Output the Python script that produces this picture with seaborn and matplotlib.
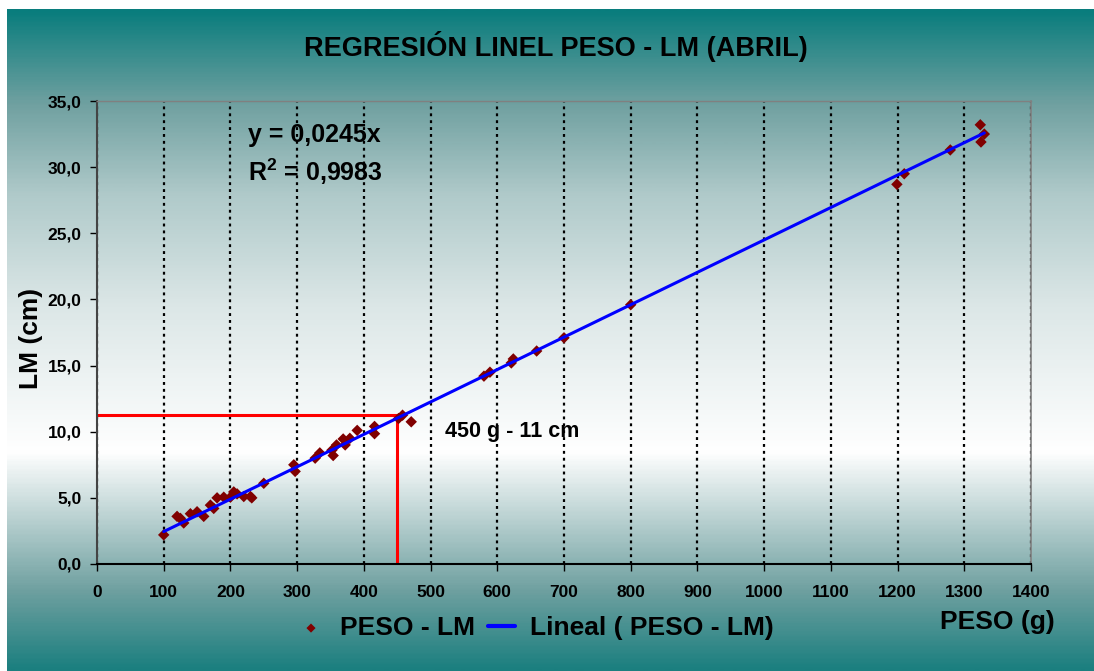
import numpy as np
import pandas as pd
import seaborn as sns
import matplotlib.pyplot as plt
from matplotlib.colors import LinearSegmentedColormap

# datos (peso en g, longitud del manto en cm)
peso = [100, 120, 125, 130, 140, 150, 160, 170, 175, 180, 190, 200, 205, 210,
        220, 230, 232, 250, 295, 297, 327, 334, 352, 354, 359, 369, 372, 379,
        390, 416, 416, 452, 458, 471, 580, 589, 621, 624, 659, 700, 800,
        1199, 1210, 1279, 1324, 1330, 1325]
lm = [2.2, 3.6, 3.45, 3.1, 3.8, 3.95, 3.6, 4.45, 4.2, 5.0, 5.05, 5.05, 5.45, 5.3,
      5.1, 5.1, 5.0, 6.1, 7.5, 7.0, 8.0, 8.4, 8.6, 8.2, 9.0, 9.45, 9.0, 9.5,
      10.1, 10.4, 9.85, 11.0, 11.25, 10.75, 14.2, 14.5, 15.2, 15.5, 16.1, 17.1, 19.6,
      28.7, 29.5, 31.3, 33.2, 32.5, 31.9]
pendiente = 0.0245
recta_peso = [100, 1330]
lectura_peso = 450
lectura_lm = 11.3

x_ticks = list(range(0, 1401, 100))
y_ticks = [0, 5, 10, 15, 20, 25, 30, 35]

df = pd.DataFrame({'peso': peso, 'lm': lm})
recta = pd.DataFrame({'peso': recta_peso, 'lm': [pendiente * p for p in recta_peso]})

sns.set_theme(style='white')
plt.rcParams['font.family'] = ['Liberation Sans', 'DejaVu Sans']
plt.rcParams['font.weight'] = 'bold'
plt.rcParams['text.color'] = 'black'
plt.rcParams['xtick.color'] = 'black'
plt.rcParams['ytick.color'] = 'black'
plt.rcParams['mathtext.fontset'] = 'custom'
plt.rcParams['mathtext.rm'] = 'Liberation Sans:bold'
plt.rcParams['mathtext.bf'] = 'Liberation Sans:bold'

W, H = 1094, 671
fig = plt.figure(figsize=(W / 100, H / 100), dpi=100)
fig.patch.set_facecolor('white')

# fondo degradado
bg = fig.add_axes([7 / W, 0, 1 - 7 / W, 1 - 9 / H], zorder=-10)
cmap = LinearSegmentedColormap.from_list('fondo', [
    (0.0, '#1b7f7f'), (0.12, '#6fa0a0'), (0.33, '#ffffff'), (0.55, '#dce7e7'),
    (0.72, '#b0caca'), (0.86, '#6fa0a0'), (1.0, '#097d7d')])
grad = np.linspace(0, 1, 400).reshape(-1, 1)
bg.imshow(grad, aspect='auto', cmap=cmap, origin='lower', extent=[0, 1, 0, 1])
bg.axis('off')

ax = fig.add_axes([97 / W, 1 - 564 / H, (1031 - 97) / W, (564 - 101) / H])
ax.patch.set_alpha(0)

ax.grid(axis='x', color='black', linestyle=(0, (1.3, 1.8)), linewidth=1.6)
ax.set_axisbelow(True)

ax.plot([0, lectura_peso], [lectura_lm, lectura_lm], color='#ff0000', lw=2.2, zorder=2)
ax.plot([lectura_peso, lectura_peso], [0.15, lectura_lm], color='#ff0000', lw=2.2, zorder=2)

sns.scatterplot(data=df, x='peso', y='lm', marker='D', s=34, color='#800000',
                edgecolor='none', label='PESO - LM', ax=ax, zorder=3)
sns.lineplot(data=recta, x='peso', y='lm', color='#0000ff', lw=2.2,
             label='Lineal ( PESO - LM)', ax=ax, zorder=4)

ax.set_xlim(0, 1400)
ax.set_ylim(0, 35)
ax.set_xticks(x_ticks)
ax.set_yticks(y_ticks)
ax.set_xticklabels([str(t) for t in x_ticks], fontsize=12.5, fontweight='bold')
ax.set_yticklabels([f'{t:.1f}'.replace('.', ',') for t in y_ticks], fontsize=12.5, fontweight='bold')
ax.tick_params(axis='x', direction='out', length=5, width=1, pad=10, colors='black')
ax.tick_params(axis='y', direction='out', length=5, width=1, pad=6, colors='black')
ax.xaxis.set_ticks_position('bottom')
ax.yaxis.set_ticks_position('left')
ax.set_xlabel('')
ax.set_ylabel('')

ax.spines['left'].set_color('#444444')
ax.spines['left'].set_linewidth(1.5)
ax.spines['bottom'].set_color('black')
ax.spines['bottom'].set_linewidth(1.5)
ax.spines['top'].set_color('#808080')
ax.spines['top'].set_linewidth(1)
ax.spines['right'].set_color('#808080')
ax.spines['right'].set_linewidth(1.2)
ax.spines['right'].set_linestyle((0, (3, 1)))

leg = ax.legend(loc='center', bbox_to_anchor=(536 / W, 1 - 628 / H), bbox_transform=fig.transFigure,
                ncol=2, frameon=False, prop={'size': 19, 'weight': 'bold'}, handlelength=1.0,
                columnspacing=0.5, handletextpad=0.6, markerscale=0.8, labelcolor='black')
for h in leg.get_lines():
    h.set_linewidth(3)

fig.text(556 / W, 1 - 47 / H, 'REGRESIÓN LINEL PESO - LM (ABRIL)', ha='center', va='center',
         fontsize=19.5, fontweight='bold')
fig.text(248 / W, 1 - 135 / H, 'y = 0,0245x', ha='left', va='center', fontsize=18, fontweight='bold')
fig.text(248 / W, 1 - 172 / H, r'R$^{2}$ = 0,9983', ha='left', va='center', fontsize=18, fontweight='bold')
fig.text(445 / W, 1 - 431 / H, '450 g - 11 cm', ha='left', va='center', fontsize=15.5, fontweight='bold')
fig.text(997 / W, 1 - 622 / H, 'PESO (g)', ha='center', va='center', fontsize=19, fontweight='bold')
fig.text(31 / W, 1 - 338 / H, 'LM (cm)', ha='center', va='center', rotation=90, fontsize=19,
         fontweight='bold')

fig.savefig('out.png', dpi=100)
